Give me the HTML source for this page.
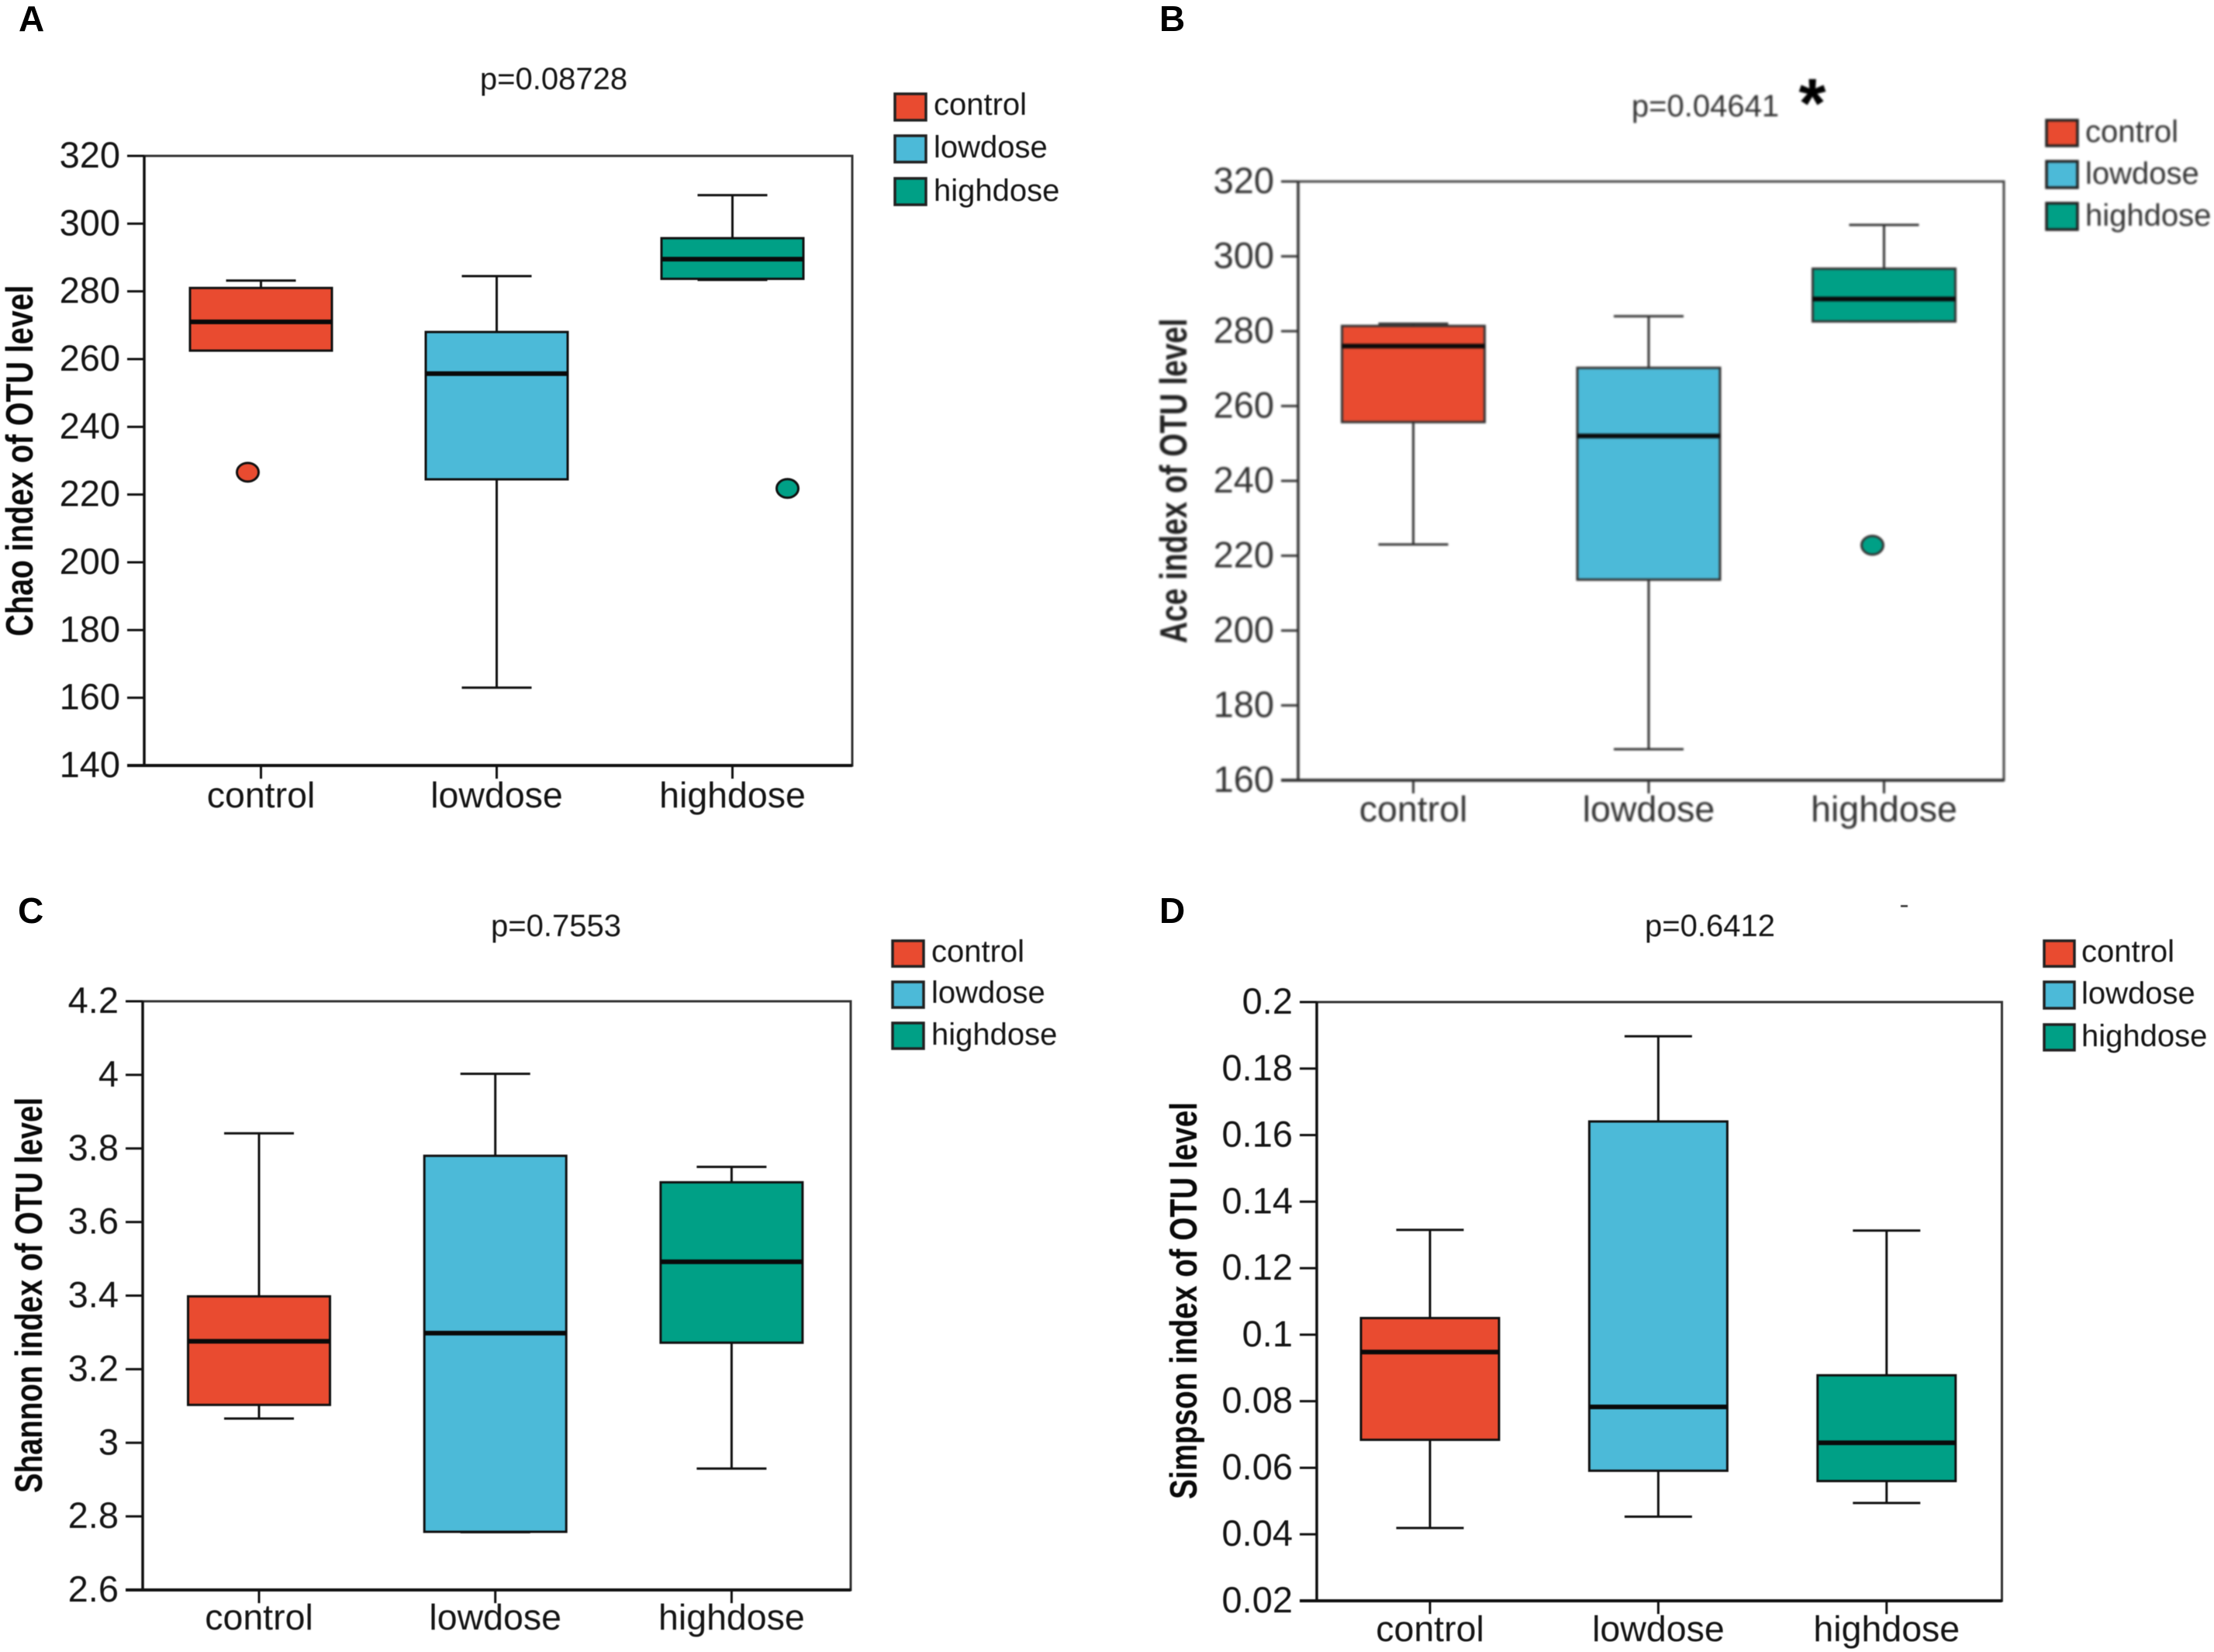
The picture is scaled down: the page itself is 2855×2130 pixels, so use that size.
<!DOCTYPE html>
<html lang="en">
<head>
<meta charset="utf-8">
<title>Alpha diversity box plots</title>
<style>
html,body{margin:0;padding:0;background:#fff;}
svg{display:block;}
text{font-family:"Liberation Sans",sans-serif;}
#panel-a,#panel-c,#panel-d{filter:blur(0.5px);}
#panel-b{filter:blur(1.2px);}
.title,.leg{font-size:40px;fill:#151515;}
.ytitle{font-size:49px;font-weight:bold;fill:#0a0a0a;}
.letter{font-size:46px;font-weight:bold;fill:#000;}
.swatch{stroke:#222;stroke-width:3.5px;}
</style>
</head>
<body>
<svg id="chart" xmlns="http://www.w3.org/2000/svg" width="2855" height="2130" viewBox="0 0 2855 2130">
<rect width="2855" height="2130" fill="#fff"/>
<text class="letter" x="24" y="40">A</text>
<text class="letter" x="1495" y="40">B</text>
<text class="letter" x="23" y="1190">C</text>
<text class="letter" x="1495" y="1190">D</text>

<g id="panel-a">
<text class="title" x="714" y="115" text-anchor="middle">p=0.08728</text>
<text class="ytitle" transform="translate(42,594) rotate(-90)" text-anchor="middle" textLength="453" lengthAdjust="spacingAndGlyphs">Chao index of OTU level</text>
<g>
<rect class="swatch" x="1154" y="121" width="40" height="34" fill="#E94B30"/>
<text class="leg" x="1204" y="148">control</text>
<rect class="swatch" x="1154" y="175" width="40" height="34" fill="#4CBAD8"/>
<text class="leg" x="1204" y="203">lowdose</text>
<rect class="swatch" x="1154" y="230" width="40" height="34" fill="#00A086"/>
<text class="leg" x="1204" y="259">highdose</text>
</g>
</g>

<g id="panel-b">
<text class="title" x="2199" y="150" text-anchor="middle" style="fill:#333">p=0.04641</text>
<text x="2337" y="164" text-anchor="middle" style="font-size:90px;font-weight:bold;fill:#000">*</text>
<text class="ytitle" transform="translate(1530,620) rotate(-90)" text-anchor="middle" textLength="419" lengthAdjust="spacingAndGlyphs" style="fill:#222">Ace index of OTU level</text>
<g>
<rect class="swatch" x="2639" y="155" width="40" height="33" fill="#E94B30"/>
<text class="leg" x="2689" y="183" style="fill:#333">control</text>
<rect class="swatch" x="2639" y="208" width="40" height="34" fill="#4CBAD8"/>
<text class="leg" x="2689" y="237" style="fill:#333">lowdose</text>
<rect class="swatch" x="2639" y="262" width="40" height="34" fill="#00A086"/>
<text class="leg" x="2689" y="291" style="fill:#333">highdose</text>
</g>
</g>

<g id="panel-c">
<text class="title" x="717" y="1207" text-anchor="middle">p=0.7553</text>
<text class="ytitle" transform="translate(54,1670) rotate(-90)" text-anchor="middle" textLength="510" lengthAdjust="spacingAndGlyphs">Shannon index of OTU level</text>
<g>
<rect class="swatch" x="1151" y="1213" width="40" height="33" fill="#E94B30"/>
<text class="leg" x="1201" y="1240">control</text>
<rect class="swatch" x="1151" y="1266" width="40" height="33" fill="#4CBAD8"/>
<text class="leg" x="1201" y="1293">lowdose</text>
<rect class="swatch" x="1151" y="1319" width="40" height="33" fill="#00A086"/>
<text class="leg" x="1201" y="1347">highdose</text>
</g>
</g>

<g id="panel-d">
<text class="title" x="2205" y="1207" text-anchor="middle">p=0.6412</text>
<rect x="2451" y="1167" width="9" height="2.5" fill="#333"/>
<text class="ytitle" transform="translate(1543,1677) rotate(-90)" text-anchor="middle" textLength="512" lengthAdjust="spacingAndGlyphs">Simpson index of OTU level</text>
<g>
<rect class="swatch" x="2636" y="1213" width="39" height="33" fill="#E94B30"/>
<text class="leg" x="2684" y="1240">control</text>
<rect class="swatch" x="2636" y="1266" width="39" height="34" fill="#4CBAD8"/>
<text class="leg" x="2684" y="1294">lowdose</text>
<rect class="swatch" x="2636" y="1321" width="39" height="33" fill="#00A086"/>
<text class="leg" x="2684" y="1349">highdose</text>
</g>
</g>
</svg>

<script>
// Shared categories
const categories = ['control', 'lowdose', 'highdose'];
const categoryColors = ['#E94B30', '#4CBAD8', '#00A086'];

// Panel A: Chao
const chaoTicks = ['140', '160', '180', '200', '220', '240', '260', '280', '300', '320'];
const chaoWhiskerHigh = [283.2, 284.5, 308.4];
const chaoQ3 = [281, 268, 295.7];
const chaoMedian = [271, 255.7, 289.5];
const chaoQ1 = [262.5, 224.5, 283.7];
const chaoWhiskerLow = [262.7, 163, 283.4];
const chaoOutliers = [226.6, null, 221.8];

// Panel B: Ace
const aceTicks = ['160', '180', '200', '220', '240', '260', '280', '300', '320'];
const aceWhiskerHigh = [282, 284, 308.4];
const aceQ3 = [281.4, 270.2, 296.7];
const aceMedian = [276, 252, 288.6];
const aceQ1 = [255.7, 213.6, 282.6];
const aceWhiskerLow = [223, 168.3, 282.6];
const aceOutliers = [null, null, 222.8];

// Panel C: Shannon
const shannonTicks = ['2.6', '2.8', '3', '3.2', '3.4', '3.6', '3.8', '4', '4.2'];
const shannonWhiskerHigh = [3.841, 4.003, 3.75];
const shannonQ3 = [3.398, 3.78, 3.708];
const shannonMedian = [3.276, 3.298, 3.492];
const shannonQ1 = [3.103, 2.758, 3.272];
const shannonWhiskerLow = [3.066, 2.757, 2.93];
const shannonOutliers = [null, null, null];

// Panel D: Simpson
const simpsonTicks = ['0.02', '0.04', '0.06', '0.08', '0.1', '0.12', '0.14', '0.16', '0.18', '0.2'];
const simpsonWhiskerHigh = [0.1315, 0.1897, 0.1313];
const simpsonQ3 = [0.105, 0.1641, 0.0878];
const simpsonMedian = [0.0948, 0.0783, 0.0675];
const simpsonQ1 = [0.0684, 0.0591, 0.056];
const simpsonWhiskerLow = [0.0419, 0.0453, 0.0494];
const simpsonOutliers = [null, null, null];

const NS = 'http://www.w3.org/2000/svg';

function make(tag, parent, geometry) {
  const node = document.createElementNS(NS, tag);
  Object.keys(geometry).forEach(function (k) { node.setAttribute(k, geometry[k]); });
  parent.appendChild(node);
  return node;
}

function drawPanel(cfg) {
  const root = document.getElementById(cfg.id);
  const ink = cfg.ink;
  const tickMin = Number(cfg.ticks[0]);
  const tickMax = Number(cfg.ticks[cfg.ticks.length - 1]);
  const yScale = function (v) {
    return cfg.bottom - (v - tickMin) / (tickMax - tickMin) * (cfg.bottom - cfg.top);
  };
  const xScale = function (i) { return cfg.left + cfg.firstOffset + cfg.step * i; };

  // frame
  const frame = make('rect', root, { x: cfg.left, y: cfg.top, width: cfg.right - cfg.left, height: cfg.bottom - cfg.top, fill: 'none', stroke: cfg.frameInk, 'stroke-width': 3 });
  
  
  const yAxis = make('line', root, { x1: cfg.left, x2: cfg.left, y1: cfg.top, y2: cfg.bottom, stroke: ink, 'stroke-width': 3.5 });
  
  
  const xAxis = make('line', root, { x1: cfg.left - 22, x2: cfg.right, y1: cfg.bottom, y2: cfg.bottom, stroke: ink, 'stroke-width': 4 });
  
  

  // y ticks
  cfg.ticks.forEach(function (label) {
    const y = yScale(Number(label));
    const tick = make('line', root, { x1: cfg.left - 22, x2: cfg.left, y1: y, y2: y, stroke: ink, 'stroke-width': 3 });
    
    
    const txt = make('text', root, { x: cfg.left - 31, y: y + 15, 'text-anchor': 'end', 'font-size': 47, fill: cfg.textInk });
    txt.textContent = label;
    
    
  });

  // categories and boxes
  categories.forEach(function (name, i) {
    const x = xScale(i);
    const tick = make('line', root, { x1: x, x2: x, y1: cfg.bottom, y2: cfg.bottom + 17, stroke: ink, 'stroke-width': 3 });
    
    
    const txt = make('text', root, { x: x, y: cfg.bottom + cfg.labelGap + 1, 'text-anchor': 'middle', 'font-size': 46.5, fill: cfg.textInk });
    txt.textContent = name;
    
    

    const g = make('g', root, {});
    
    

    const yHigh = yScale(cfg.whiskerHigh[i]);
    const yLow = yScale(cfg.whiskerLow[i]);
    const yQ3 = yScale(cfg.q3[i]);
    const yQ1 = yScale(cfg.q1[i]);
    const yMed = yScale(cfg.median[i]);

    const stem = make('line', g, { x1: x, x2: x, y1: yHigh, y2: yLow, stroke: ink, 'stroke-width': 3 });
    
    
    const capHigh = make('line', g, { x1: x - cfg.capWidth / 2, x2: x + cfg.capWidth / 2, y1: yHigh, y2: yHigh, stroke: ink, 'stroke-width': 3 });
    
    
    const capLow = make('line', g, { x1: x - cfg.capWidth / 2, x2: x + cfg.capWidth / 2, y1: yLow, y2: yLow, stroke: ink, 'stroke-width': 3 });
    
    
    const box = make('rect', g, { x: x - cfg.boxWidth / 2, y: yQ3, width: cfg.boxWidth, height: yQ1 - yQ3, fill: categoryColors[i], stroke: ink, 'stroke-width': 3 });
    
    
    const med = make('line', g, { x1: x - cfg.boxWidth / 2, x2: x + cfg.boxWidth / 2, y1: yMed, y2: yMed, stroke: '#0a0a0a', 'stroke-width': 6 });
    
    

    if (cfg.outliers[i] !== null) {
      const dot = make('ellipse', g, { cx: x + cfg.outlierOffset[name], cy: yScale(cfg.outliers[i]), rx: 14, ry: 12, fill: categoryColors[i], stroke: ink, 'stroke-width': 3 });
      
      
    }
  });
}

drawPanel({ id: 'panel-a', key: 'chao', ticks: chaoTicks, whiskerHigh: chaoWhiskerHigh, q3: chaoQ3, median: chaoMedian, q1: chaoQ1, whiskerLow: chaoWhiskerLow, outliers: chaoOutliers,
  left: 186, right: 1099, top: 201, bottom: 987, firstOffset: 150.5, step: 304, boxWidth: 183, capWidth: 90, labelGap: 53, outlierOffset: { control: -17, highdose: 71 }, ink: '#111', frameInk: '#333', textInk: '#151515' });
drawPanel({ id: 'panel-b', key: 'ace', ticks: aceTicks, whiskerHigh: aceWhiskerHigh, q3: aceQ3, median: aceMedian, q1: aceQ1, whiskerLow: aceWhiskerLow, outliers: aceOutliers,
  left: 1674, right: 2584, top: 234, bottom: 1006, firstOffset: 148.5, step: 303.5, boxWidth: 184, capWidth: 90, labelGap: 52, outlierOffset: { highdose: -15 }, ink: '#333', frameInk: '#444', textInk: '#333' });
drawPanel({ id: 'panel-c', key: 'shannon', ticks: shannonTicks, whiskerHigh: shannonWhiskerHigh, q3: shannonQ3, median: shannonMedian, q1: shannonQ1, whiskerLow: shannonWhiskerLow, outliers: shannonOutliers,
  left: 184, right: 1097, top: 1291, bottom: 2050, firstOffset: 150, step: 304.7, boxWidth: 183, capWidth: 90, labelGap: 50, outlierOffset: {}, ink: '#111', frameInk: '#333', textInk: '#151515' });
drawPanel({ id: 'panel-d', key: 'simpson', ticks: simpsonTicks, whiskerHigh: simpsonWhiskerHigh, q3: simpsonQ3, median: simpsonMedian, q1: simpsonQ1, whiskerLow: simpsonWhiskerLow, outliers: simpsonOutliers,
  left: 1698, right: 2581.5, top: 1292, bottom: 2064, firstOffset: 146, step: 294.4, boxWidth: 178, capWidth: 87, labelGap: 51, outlierOffset: {}, ink: '#111', frameInk: '#333', textInk: '#151515' });
</script>
</body>
</html>
